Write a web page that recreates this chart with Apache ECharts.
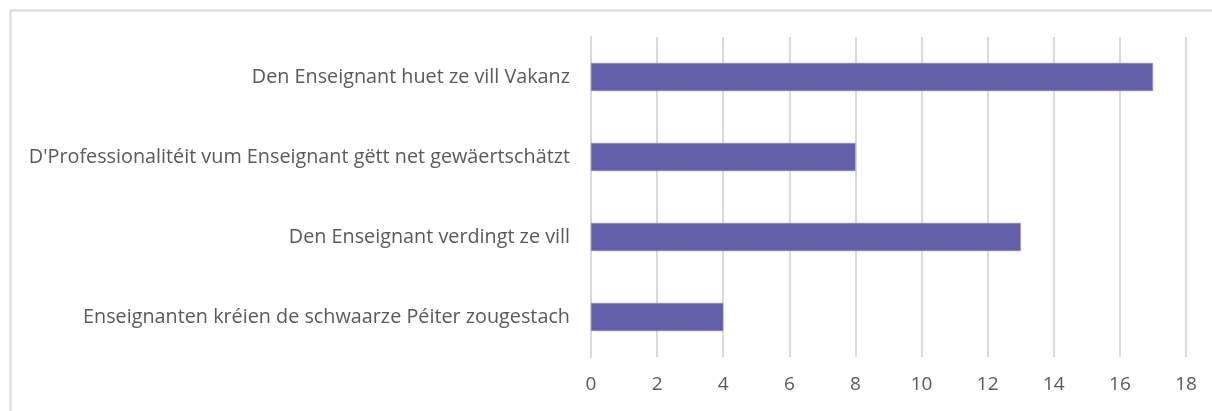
<!DOCTYPE html>
<html><head><meta charset="utf-8">
<script src="https://cdn.jsdelivr.net/npm/echarts@6/dist/echarts.min.js"></script>
<style>html,body{margin:0;padding:0;background:#fff;}#c{width:1212px;height:411px;}</style>
</head><body><div id="c"></div>
<script>
const categories = [
  "Enseignanten kréien de schwaarze Péiter zougestach",
  "Den Enseignant verdingt ze vill",
  "D'Professionalitéit vum Enseignant gëtt net gewäertschätzt",
  "Den Enseignant huet ze vill Vakanz"
];
const values = [4, 13, 8, 17];
const chart = echarts.init(document.getElementById('c'), null, {renderer:'canvas'});
chart.setOption({
  animation:false,
  graphic:[{type:'rect',shape:{x:10.5,y:10.5,width:1210,height:420},style:{fill:'none',stroke:'#d9d9d9',lineWidth:2},silent:true}],
  grid:{left:591,right:26,top:37,bottom:54,containLabel:false},
  xAxis:{type:'value',min:0,max:18,interval:2,
    axisLine:{show:false},axisTick:{show:false},
    splitLine:{show:true,lineStyle:{color:'#d9d9d9',width:2}},
    axisLabel:{color:'#595959',fontSize:19,fontFamily:'Open Sans',margin:18}},
  yAxis:{type:'category',data:categories,
    axisLine:{show:true,lineStyle:{color:'#d9d9d9',width:2}},axisTick:{show:false},
    axisLabel:{color:'#595959',fontSize:19.8,fontFamily:'Open Sans',margin:21}},
  series:[{type:'bar',data:values,barWidth:28,
    itemStyle:{color:'#635FA8',borderColor:'#8a86c0',borderWidth:0.5}}]
});
</script></body></html>
